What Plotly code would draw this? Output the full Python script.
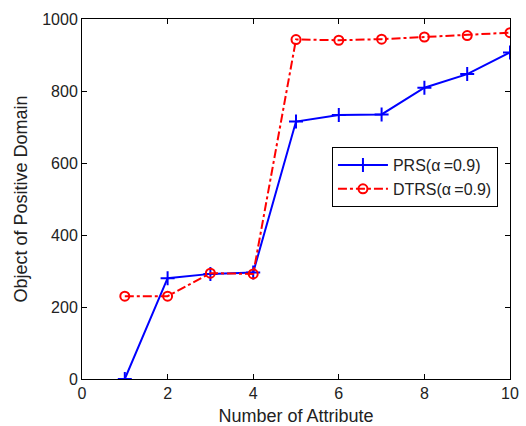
import plotly.graph_objects as go

attributes = [1, 2, 3, 4, 5, 6, 7, 8, 9, 10]
prs_values = [0, 280, 292, 296, 715, 733, 735, 809, 847, 907]
dtrs_values = [230, 230, 294, 292, 943, 941, 944, 950, 954, 962]
x_ticks = [0, 2, 4, 6, 8, 10]
y_ticks = [0, 200, 400, 600, 800, 1000]

FONT = "Liberation Sans, Arial"

fig = go.Figure()
fig.add_trace(go.Scatter(
    x=attributes, y=prs_values, mode="lines+markers",
    name="PRS(α\u2009=0.9)",
    line=dict(color="#0000ff", width=2),
    marker=dict(symbol="cross-thin", size=10, line=dict(color="#0000ff", width=2)),
))
fig.add_trace(go.Scatter(
    x=attributes, y=dtrs_values, mode="lines+markers",
    name="DTRS(α\u2009=0.9)",
    line=dict(color="#ff0000", width=2, dash="dashdot"),
    marker=dict(symbol="circle-open", size=9, line=dict(color="#ff0000", width=2)),
))

axis_common = dict(
    showgrid=False, zeroline=False, showline=True, linecolor="black", linewidth=1,
    mirror="ticks", ticks="inside", ticklen=5, tickcolor="black", automargin=False,
    tickfont=dict(family=FONT, size=16, color="#222"),
)
fig.update_xaxes(range=[0, 10], tickvals=x_ticks,
                 title=dict(text="Number of Attribute", font=dict(family=FONT, size=18, color="#222"), standoff=8),
                 **axis_common)
fig.update_yaxes(range=[0, 1000], tickvals=y_ticks,
                 title=dict(text="Object of Positive Domain", font=dict(family=FONT, size=18, color="#222"), standoff=9),
                 **axis_common)

fig.update_layout(
    width=526, height=426,
    margin=dict(l=82, r=16, t=19, b=47),
    paper_bgcolor="white", plot_bgcolor="white",
    font=dict(family=FONT, size=16, color="#222"),
    legend=dict(x=0.584, y=0.644, xanchor="left", yanchor="top",
                bgcolor="white", bordercolor="black", borderwidth=1,
                font=dict(size=16), tracegroupgap=0, itemwidth=50),
)
fig.write_html("out.html", config={"displayModeBar": False},
               post_script="document.body.style.margin='0';document.body.style.overflow='hidden';")
